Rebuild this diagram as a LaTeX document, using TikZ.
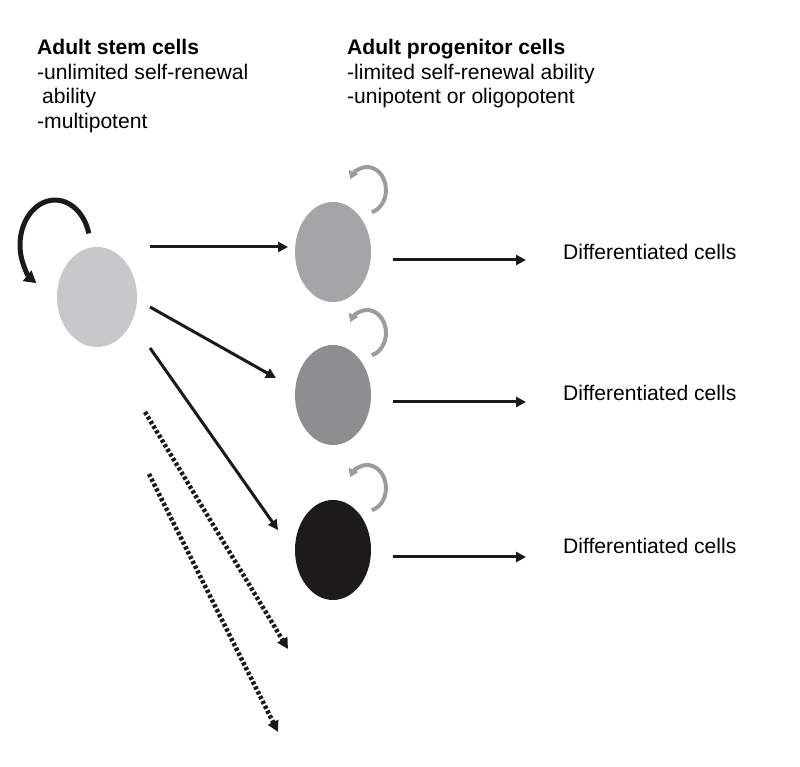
\documentclass[tikz,border=0pt]{standalone}
\usepackage{fontspec}
\setmainfont{Liberation Sans}
\usetikzlibrary{arrows.meta,shapes.geometric}
\definecolor{stemgray}{HTML}{C8C8CA}
\definecolor{progA}{HTML}{A5A5A7}
\definecolor{progB}{HTML}{8E8E90}
\definecolor{progC}{HTML}{1C1A1B}
\definecolor{loopgray}{HTML}{9C9C9E}
\definecolor{ink}{HTML}{1A1A1A}
\tikzset{
  cell/.style={ellipse, minimum width=76pt, minimum height=100pt, inner sep=0pt, draw=none},
  arr/.style={draw=ink, line width=3pt, -{Triangle[length=10pt,width=10pt]}},
  dotarr/.style={draw=ink, line width=4.5pt, dash pattern=on 3.2pt off 2.2pt, -{Triangle[length=11pt,width=11pt]}},
  selfloop/.style={draw=ink, line width=5pt, -{Triangle[length=12pt,width=13pt]}},
  smallloop/.style={draw=loopgray, line width=4pt, -{Triangle[length=8pt,width=10pt]}},
  txt/.style={font=\fontsize{21.1}{24.7}\selectfont, inner sep=0pt, align=left},
}
\begin{document}
\begin{tikzpicture}[x=1pt,y=1pt]
\useasboundingbox (0,0) rectangle (800,766);
% headings
\node[txt, anchor=north west] (stemtxt) at (37,727) {\textbf{Adult stem cells}\\-unlimited self-renewal\\\hspace{5pt}ability\\-multipotent};
\node[txt, anchor=north west] (progtxt) at (347,727) {\textbf{Adult progenitor cells}\\-limited self-renewal ability\\-unipotent or oligopotent};
% cells
\node[cell, fill=stemgray, minimum width=80pt] (stem) at (97,469) {};
\node[cell, fill=progA] (p1) at (333,514) {};
\node[cell, fill=progB] (p2) at (333,371) {};
\node[cell, fill=progC] (p3) at (333,216) {};
% self-renewal loops
\draw[selfloop] (stem) ++(-8.2,63.6) coordinate (l0) arc[start angle=15, end angle=238, x radius=35, y radius=45];
\draw[smallloop] (p1) ++(38.9,39.8) coordinate (l1) arc[start angle=-75, end angle=152, x radius=19, y radius=23];
\draw[smallloop] (p2) ++(38.9,39.8) coordinate (l2) arc[start angle=-75, end angle=152, x radius=19, y radius=23];
\draw[smallloop] (p3) ++(38.9,39.8) coordinate (l3) arc[start angle=-75, end angle=152, x radius=19, y radius=23];
% arrow end points
\coordinate (a1s) at (150,519); \coordinate (a1e) at (288,519);
\coordinate (a2s) at (150,459); \coordinate (a2e) at (276,388);
\coordinate (a3s) at (150,418); \coordinate (a3e) at (278,236);
\coordinate (d1s) at (145,354); \coordinate (d1e) at (288,117);
\coordinate (d2s) at (149,292); \coordinate (d2e) at (278,34);
\draw[arr] (a1s) -- (a1e);
\draw[arr] (a2s) -- (a2e);
\draw[arr] (a3s) -- (a3e);
\draw[dotarr] (d1s) -- (d1e);
\draw[dotarr] (d2s) -- (d2e);
% differentiated
\node[txt, anchor=west] (d1) at (563,514) {Differentiated cells};
\node[txt, anchor=west] (d2) at (563,373) {Differentiated cells};
\node[txt, anchor=west] (d3) at (563,220) {Differentiated cells};
\coordinate (r1s) at (393,506); \coordinate (r1e) at (526,506);
\coordinate (r2s) at (393,364); \coordinate (r2e) at (526,364);
\coordinate (r3s) at (393,209); \coordinate (r3e) at (526,209);
\draw[arr] (r1s) -- (r1e);
\draw[arr] (r2s) -- (r2e);
\draw[arr] (r3s) -- (r3e);
\end{tikzpicture}
\end{document}
